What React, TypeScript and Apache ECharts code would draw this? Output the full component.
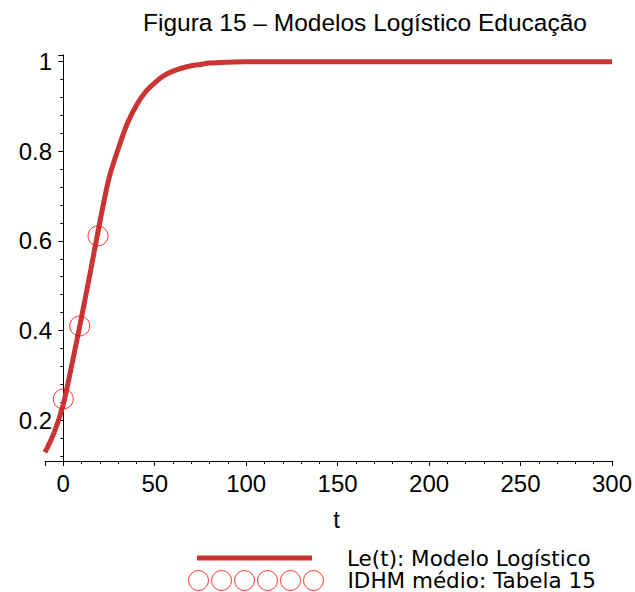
import React, { useEffect, useRef } from 'react';
import * as echarts from 'echarts';

const titleText = 'Figura 15 – Modelos Logístico Educação';
const xAxisName = 't';
const seriesNames = ['Le(t): Modelo Logístico', 'IDHM médio: Tabela 15'];

// Logistic model curve
const tValues = [-10, -5, 0, 5, 10, 15, 20, 25, 30, 35, 40, 45, 50, 55, 60, 65, 70, 75, 80, 90, 100, 150, 200, 250, 300];
const leValues = [0.128, 0.172, 0.235, 0.33, 0.43, 0.535, 0.642, 0.74, 0.805, 0.862, 0.903, 0.933, 0.953, 0.969, 0.979, 0.986, 0.991, 0.994, 0.997, 0.999, 1.0, 1.0, 1.0, 1.0, 1.0];

// Observed IDHM points
const obsT = [0, 9, 19];
const obsIdhm = [0.247, 0.41, 0.611];

const xTickLabels = ['0', '50', '100', '150', '200', '250', '300'];
const yTickLabels = ['0.2', '0.4', '0.6', '0.8', '1'];

export default function App() {
  const ref = useRef<HTMLDivElement>(null);
  useEffect(() => {
    const chart = echarts.init(ref.current!, null, { renderer: 'svg' });
    const circlesPath =
      'path://' +
      [0, 1, 2, 3, 4, 5]
        .map((i) => `M${i * 23},10a10,10 0 1,0 20,0a10,10 0 1,0 -20,0Z`)
        .join('');
    const tickFont = { fontFamily: 'Liberation Sans, Arial, sans-serif', fontSize: 24, color: '#000' };
    const legendFont = { fontFamily: 'DejaVu Sans, sans-serif', fontSize: 21.5, color: '#000', lineHeight: 20 };
    chart.setOption({
      animation: false,
      backgroundColor: '#fff',
      title: {
        text: titleText,
        left: 143,
        top: 10,
        padding: 0,
        textStyle: { fontFamily: 'Liberation Sans, Arial, sans-serif', fontSize: 24.5, fontWeight: 'normal', color: '#000', lineHeight: 24 },
      },
      legend: [
        {
          data: [{ name: seriesNames[0], icon: 'rect' }],
          left: 197,
          top: 547,
          padding: 0,
          itemWidth: 115,
          itemHeight: 5,
          itemStyle: { color: '#cc3333' },
          textStyle: { ...legendFont, padding: [0, 0, 0, 30] },
          selectedMode: false,
        },
        {
          data: [{ name: seriesNames[1], icon: circlesPath }],
          left: 188,
          top: 569.5,
          padding: 0,
          itemWidth: 135,
          itemHeight: 20,
          itemStyle: { color: 'transparent', borderColor: '#ff0000', borderWidth: 1 },
          textStyle: { ...legendFont, padding: [0, 0, 0, 19] },
          selectedMode: false,
        },
      ],
      grid: { left: 45, right: 23, top: 55, bottom: 131, containLabel: false },
      xAxis: {
        type: 'value',
        min: -10,
        max: 300,
        name: xAxisName,
        nameLocation: 'middle',
        nameGap: 46,
        nameTextStyle: { ...tickFont, fontSize: 24, lineHeight: 24, padding: [0, 0, 0, 16] },
        splitLine: { show: false },
        axisLine: { lineStyle: { color: '#000', width: 1 } },
        axisTick: { length: 5, lineStyle: { color: '#000' } },
        minorTick: { show: true, splitNumber: 5, length: 3, lineStyle: { color: '#000' } },
        axisLabel: {
          ...tickFont,
          margin: 10,
          formatter: (v: number) => (xTickLabels.includes(String(v)) ? String(v) : ''),
        },
      },
      yAxis: {
        type: 'value',
        min: 0.1085,
        max: 1.015,
        splitLine: { show: false },
        axisLine: { onZero: true, lineStyle: { color: '#000', width: 1 } },
        axisTick: { length: 5, lineStyle: { color: '#000' } },
        minorTick: { show: true, splitNumber: 5, length: 3, lineStyle: { color: '#000' } },
        axisLabel: {
          ...tickFont,
          align: 'right',
          margin: -7,
          formatter: (v: number) => {
            const s = String(Math.round(v * 10) / 10);
            return yTickLabels.includes(s) && Math.abs(v - Number(s)) < 1e-6 ? s : '';
          },
        },
      },
      series: [
        {
          name: seriesNames[0],
          type: 'line',
          data: tValues.map((t, i) => [t, leValues[i]]),
          smooth: 0.3,
          showSymbol: false,
          symbol: 'none',
          color: '#cc3333',
          lineStyle: { color: '#cc3333', width: 5 },
          z: 2,
        },
        {
          name: seriesNames[1],
          type: 'scatter',
          data: obsT.map((t, i) => [t, obsIdhm[i]]),
          symbol: 'circle',
          symbolSize: 20,
          itemStyle: { color: 'transparent', borderColor: '#ff0000', borderWidth: 1 },
          z: 3,
        },
      ],
    });
    return () => chart.dispose();
  }, []);
  return <div ref={ref} style={{ position: 'fixed', left: 0, top: 0, width: 635, height: 592 }} />;
}
